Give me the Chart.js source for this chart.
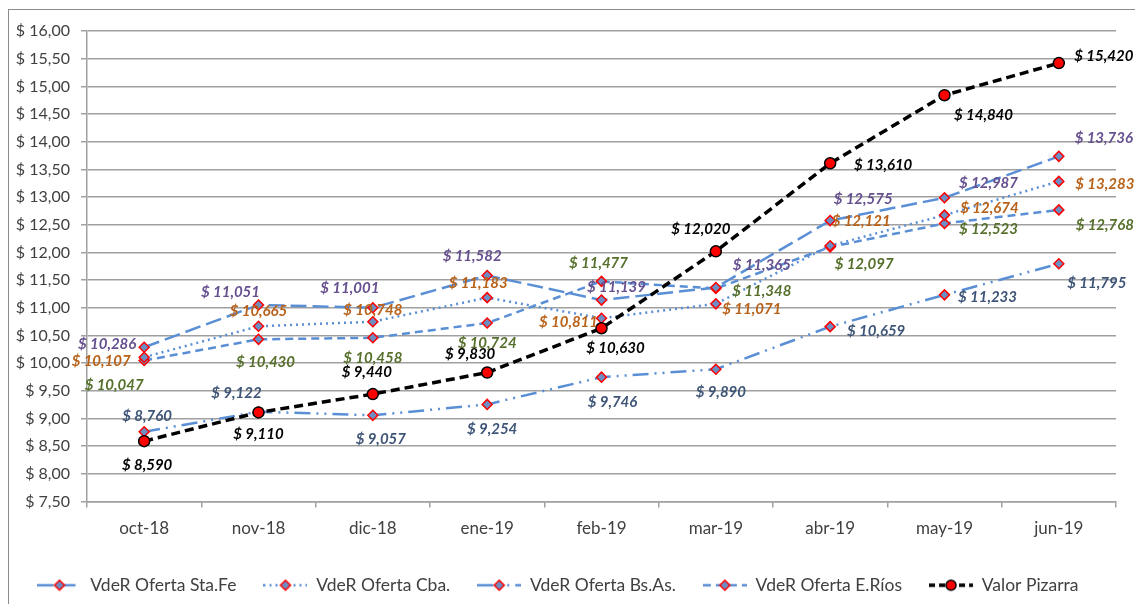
<!DOCTYPE html>
<html>
<head>
<meta charset="utf-8">
<script src="https://cdn.jsdelivr.net/npm/chart.js@4.4.1/dist/chart.umd.min.js"></script>
<style>
  html, body { margin: 0; padding: 0; background: #fff; overflow: hidden; }
  #frame { position: absolute; left: 8px; top: 9px; width: 1200px; height: 700px;
           border-left: 1px solid #8c8c8c; border-top: 1px solid #8c8c8c; }
  #wrap { position: absolute; left: 0; top: 0; width: 1135px; height: 604px; }
</style>
</head>
<body>
<div id="frame"></div>
<div id="wrap"><canvas id="chart"></canvas></div>
<script>
// ---- data ----
const months = ['oct-18', 'nov-18', 'dic-18', 'ene-19', 'feb-19', 'mar-19', 'abr-19', 'may-19', 'jun-19'];
const staFe  = [10.286, 11.051, 11.001, 11.582, 11.139, 11.365, 12.575, 12.987, 13.736];
const cba    = [10.107, 10.665, 10.748, 11.183, 10.811, 11.071, 12.121, 12.674, 13.283];
const bsAs   = [8.760, 9.122, 9.057, 9.254, 9.746, 9.890, 10.659, 11.233, 11.795];
const eRios  = [10.047, 10.430, 10.458, 10.724, 11.477, 11.348, 12.097, 12.523, 12.768];
const pizarra = [8.590, 9.110, 9.440, 9.830, 10.630, 12.020, 13.610, 14.840, 15.420];

// value label placement (offset from the point, px) — kept apart from the data
const labelOffsets = [
  [[-37, -3], [-28, -13], [-23, -20], [-15, -19], [15, -13], [46, -22], [33, -21], [44, -15], [45, -18]],
  [[-43, 4], [0, -15], [0, -12], [-9, -14], [-33, 4], [36, 5], [31, -25], [45, -7], [46, 3]],
  [[3, -16], [-22, -19], [8, 24], [5, 25], [11, 25], [5, 23], [46, 5], [43, 2], [38, 19]],
  [[-30, 25], [7, 23], [0, 20], [0, 20], [-3, -18], [46, 3], [34, 17], [44, 6], [46, 15]],
  [[3, 24], [0, 22], [-6, -22], [-17, -18], [14, 20], [-15, -22], [53, 2], [39, 20], [45, -7]]
];
const labelColors = ['#66508f', '#b8621a', '#3e5577', '#56702c', '#000000'];

const BLUE = '#5a8fd6';
const FONT = 'Lato';

function money(v, d) {
  return '$ ' + v.toFixed(d).replace('.', ',');
}

// legend sample: a short piece of the line with its marker on it
function legendIcon(dash, color, width, marker) {
  const c = document.createElement('canvas');
  c.width = 44; c.height = 14;
  const g = c.getContext('2d');
  g.strokeStyle = color; g.lineWidth = width; g.setLineDash(dash);
  g.beginPath(); g.moveTo(0, 7); g.lineTo(44, 7); g.stroke();
  g.setLineDash([]);
  g.lineWidth = 1.5;
  if (marker === 'circle') {
    g.fillStyle = '#ff0000'; g.strokeStyle = '#000';
    g.beginPath(); g.arc(22, 7, 5, 0, Math.PI * 2); g.fill(); g.stroke();
  } else {
    g.fillStyle = '#6c8ec4'; g.strokeStyle = '#ff0000';
    g.beginPath(); g.moveTo(22, 2); g.lineTo(27, 7); g.lineTo(22, 12); g.lineTo(17, 7); g.closePath();
    g.fill(); g.stroke();
  }
  return c;
}

const dashes = [[16, 6], [2, 4], [16, 6, 2, 6, 2, 6], [8, 5], [9, 5]];
const icons = [
  legendIcon(dashes[0], BLUE, 2.5, 'diamond'),
  legendIcon(dashes[1], BLUE, 2.5, 'diamond'),
  legendIcon(dashes[2], BLUE, 2.5, 'diamond'),
  legendIcon(dashes[3], BLUE, 2.5, 'diamond'),
  legendIcon([6, 4], '#000', 3.5, 'circle')
];

function blueSeries(label, data, dash) {
  return {
    label, data,
    borderColor: BLUE, borderWidth: 2.5, borderDash: dash,
    pointStyle: 'rectRot', pointRadius: 5, pointBorderWidth: 1.5,
    pointBackgroundColor: '#6c8ec4', pointBorderColor: '#ff0000',
    tension: 0, fill: false, order: 1
  };
}

// ---- value labels ----
const valueLabels = {
  id: 'valueLabels',
  afterDatasetsDraw(chart) {
    const ctx = chart.ctx;
    ctx.save();
    ctx.font = 'italic bold 15px ' + FONT;
    ctx.textAlign = 'center';
    ctx.textBaseline = 'middle';
    chart.data.datasets.forEach((ds, di) => {
      const meta = chart.getDatasetMeta(di);
      ctx.fillStyle = labelColors[di];
      meta.data.forEach((pt, i) => {
        const off = labelOffsets[di][i];
        ctx.fillText(money(ds.data[i], 3), pt.x + off[0], pt.y + off[1]);
      });
    });
    ctx.restore();
  }
};

new Chart(document.getElementById('chart'), {
  type: 'line',
  data: {
    labels: months,
    datasets: [
      blueSeries('VdeR Oferta Sta.Fe', staFe, dashes[0]),
      blueSeries('VdeR Oferta Cba.', cba, dashes[1]),
      blueSeries('VdeR Oferta Bs.As.', bsAs, dashes[2]),
      blueSeries('VdeR Oferta E.Ríos', eRios, dashes[3]),
      {
        label: 'Valor Pizarra', data: pizarra,
        borderColor: '#000', borderWidth: 3.5, borderDash: dashes[4],
        pointStyle: 'circle', pointRadius: 5.5, pointBorderWidth: 1.5,
        pointBackgroundColor: '#ff0000', pointBorderColor: '#000',
        tension: 0, fill: false, order: 0
      }
    ]
  },
  options: {
    responsive: true,
    maintainAspectRatio: false,
    animation: false,
    layout: { padding: { left: 0, top: 31, right: 19, bottom: 0 } },
    plugins: {
      tooltip: { enabled: false },
      legend: {
        position: 'bottom',
        labels: {
          usePointStyle: true,
          pointStyleWidth: 44,
          padding: 27,
          color: '#404040',
          font: { family: FONT, size: 17.5 },
          sort: (a, b) => a.datasetIndex - b.datasetIndex,
          generateLabels: chart =>
            Chart.defaults.plugins.legend.labels.generateLabels(chart)
              .map(l => ({ ...l, pointStyle: icons[l.datasetIndex] }))
        }
      }
    },
    scales: {
      x: {
        offset: true,
        grid: { offset: true, drawOnChartArea: false, color: '#a0a0a0', lineWidth: 1.5, tickLength: 6 },
        border: { color: '#a0a0a0', width: 1.5 },
        ticks: { color: '#404040', padding: 11, font: { family: FONT, size: 17 }, maxRotation: 0 },
        afterFit: s => { s.height = 48; }
      },
      y: {
        min: 7.5, max: 16,
        grid: { color: '#a0a0a0', lineWidth: 1.5, tickLength: 6 },
        border: { color: '#a0a0a0', width: 1.5 },
        ticks: { stepSize: 0.5, color: '#404040', padding: 11, font: { family: FONT, size: 16 },
                 callback: v => money(v, 2) },
        afterFit: s => { s.width = 87; }
      }
    }
  },
  plugins: [valueLabels]
});
</script>
</body>
</html>
